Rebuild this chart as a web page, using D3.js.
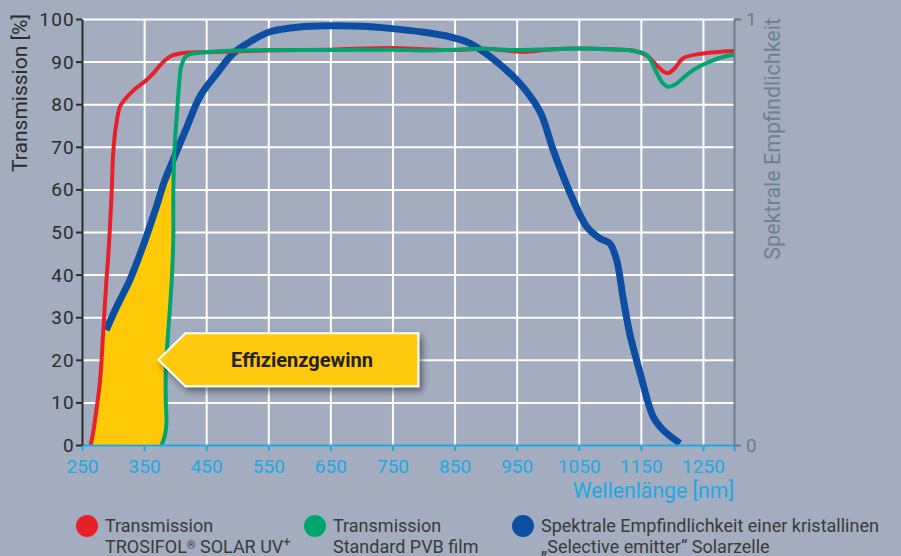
<!DOCTYPE html>
<html>
<head>
<meta charset="utf-8">
<script src="https://cdn.jsdelivr.net/npm/d3@7"></script>
<style>
  html, body { margin: 0; padding: 0; background: #a3adbf; }
  svg { display: block; }
  text { font-family: Roboto, "Noto Sans", sans-serif; }
</style>
</head>
<body>
<svg id="chart" width="901" height="556"></svg>
<script>
// ---------- data ----------
const xTicks = [250, 350, 450, 550, 650, 750, 850, 950, 1050, 1150, 1250];
const yTicks = [0, 10, 20, 30, 40, 50, 60, 70, 80, 90, 100];
const y2Ticks = [0, 1];

// Transmission TROSIFOL SOLAR UV+ (red), wavelength nm / transmission %
const redX = [264, 268, 273, 279, 284, 289, 293, 296, 298, 300, 303, 306, 311, 320, 335, 354, 367, 376, 392, 413, 450, 550, 650, 750, 800, 850, 900, 960, 1000, 1050, 1100, 1140, 1160, 1175, 1187, 1194, 1205, 1218, 1250, 1300];
const redY = [0, 3, 8, 15, 26, 38, 46, 54, 60, 68, 73, 76, 79.4, 81.3, 83.5, 85.7, 87.6, 89.2, 91.2, 92, 92.2, 92.6, 92.8, 93.2, 92.9, 92.7, 93, 92.3, 92.8, 93.1, 92.9, 92.5, 91.4, 89.2, 87.6, 87.3, 88.5, 90.8, 91.9, 92.5];

// Transmission Standard PVB film (green)
const greenX = [378, 383, 386, 385, 385, 388, 392, 395, 397, 397, 398, 400, 403, 406, 410, 418, 440, 494, 550, 650, 750, 800, 850, 900, 950, 1000, 1050, 1100, 1140, 1160, 1175, 1185, 1194, 1205, 1215, 1234, 1261, 1288, 1300];
const greenY = [0, 2, 5, 10, 18, 25, 33, 40, 48, 58, 66, 72, 78, 84, 89, 91.3, 92.1, 92.6, 92.7, 92.7, 92.8, 92.6, 92.8, 93, 92.7, 92.9, 93.1, 92.9, 92.5, 91.5, 87.5, 85, 84.1, 84.6, 85.8, 88, 90, 91.3, 91.6];

// Spektrale Empfindlichkeit (blue), relative 0..1
const blueX = [289, 306, 327, 346, 355, 370, 383, 397, 419, 440, 467, 494, 521, 553, 600, 649, 700, 746, 800, 843, 875, 907, 950, 975, 990, 1009, 1041, 1063, 1084, 1100, 1111, 1122, 1132, 1149, 1170, 1186, 1213];
const blueY = [0.27, 0.325, 0.387, 0.458, 0.495, 0.56, 0.62, 0.67, 0.747, 0.818, 0.872, 0.92, 0.947, 0.97, 0.981, 0.984, 0.983, 0.978, 0.969, 0.958, 0.943, 0.912, 0.857, 0.812, 0.775, 0.692, 0.575, 0.512, 0.485, 0.473, 0.434, 0.34, 0.262, 0.168, 0.066, 0.035, 0.004];

const legendLabels = [
  ["Transmission", "TROSIFOL"],
  ["Transmission", "Standard PVB film"],
  ["Spektrale Empfindlichkeit einer kristallinen", "\u201ESelective emitter\u201C Solarzelle"]
];
const calloutText = "Effizienzgewinn";

// ---------- layout ----------
const C = {
  bg: "#a3adbf", red: "#e8202a", green: "#00a46f", blue: "#0c4ea2",
  yellow: "#ffc908", axisBlue: "#1ea9e3", dark: "#2b2b2b", gray: "#6b7e8c", text: "#3a3a3a"
};
const svg = d3.select("#chart");
const x = d3.scaleLinear().domain([250, 1300]).range([82, 734]);
const y = d3.scaleLinear().domain([0, 100]).range([445, 19]);
const y2 = d3.scaleLinear().domain([0, 1]).range([445, 19]);

svg.append("rect").attr("width", 901).attr("height", 556).attr("fill", C.bg);

const defs = svg.append("defs");
const f = defs.append("filter").attr("id", "shadow").attr("x", "-20%").attr("y", "-30%").attr("width", "150%").attr("height", "170%");
f.append("feDropShadow").attr("dx", 3).attr("dy", 4).attr("stdDeviation", 3).attr("flood-color", "#1c2330").attr("flood-opacity", 0.55);

// grid
const gridV = svg.append("g").attr("transform", "translate(0,19)")
  .call(d3.axisBottom(x).tickValues(xTicks.slice(1)).tickSize(426).tickFormat(""));
gridV.select(".domain").remove();
gridV.selectAll("line").attr("stroke", "#ffffff").attr("stroke-width", 2);
const gridH = svg.append("g").attr("transform", "translate(82,0)")
  .call(d3.axisRight(y).tickValues(yTicks.slice(1)).tickSize(652).tickFormat(""));
gridH.select(".domain").remove();
gridH.selectAll("line").attr("stroke", "#ffffff").attr("stroke-width", 2);

// curve helpers
const pts = (xs, ys, sy) => xs.map((v, i) => [x(v), sy(ys[i])]);
const redP = pts(redX, redY, y), greenP = pts(greenX, greenY, y), blueP = pts(blueX, blueY, y2);

// yellow fill: left by red, top by blue, right by green
function interpXatY(xs, ys, val) {
  for (let i = 0; i < ys.length - 1; i++) {
    if ((ys[i] - val) * (ys[i + 1] - val) <= 0 && ys[i] !== ys[i + 1]) {
      const t = (val - ys[i]) / (ys[i + 1] - ys[i]);
      return xs[i] + t * (xs[i + 1] - xs[i]);
    }
  }
  return xs[xs.length - 1];
}
const greenRiseEnd = greenY.indexOf(91.3);
const gX = greenX.slice(0, greenRiseEnd + 1), gY = greenY.slice(0, greenRiseEnd + 1);
const blueStart = blueY[0] * 100;
const fill = [];
for (let i = 0; i < redX.length && redY[i] < blueStart; i++) fill.push([redX[i], redY[i]]);
fill.push([interpXatY(redX, redY, blueStart), blueStart]);
let cross = null;
for (let i = 0; i < blueX.length; i++) {
  const bv = blueY[i] * 100;
  const gx = interpXatY(gX, gY, bv);
  if (blueX[i] < gx) { fill.push([blueX[i], bv]); }
  else {
    const a = [blueX[i - 1], blueY[i - 1] * 100], b = [blueX[i], bv];
    let lo = 0, hi = 1;
    for (let k = 0; k < 40; k++) {
      const m = (lo + hi) / 2;
      const px = a[0] + m * (b[0] - a[0]), py = a[1] + m * (b[1] - a[1]);
      if (px < interpXatY(gX, gY, py)) lo = m; else hi = m;
    }
    cross = [a[0] + lo * (b[0] - a[0]), a[1] + lo * (b[1] - a[1])];
    fill.push(cross);
    break;
  }
}
for (let i = gY.length - 1; i >= 0; i--) if (gY[i] < cross[1]) fill.push([gX[i], gY[i]]);
svg.append("path")
  .attr("d", d3.line().x(d => x(d[0])).y(d => y(d[1])).curve(d3.curveCatmullRom)(fill) + "Z")
  .attr("fill", C.yellow);

const line = d3.line().curve(d3.curveCatmullRom.alpha(0.5));
svg.append("path").attr("d", line(blueP)).attr("fill", "none").attr("stroke", C.blue).attr("stroke-width", 7).attr("stroke-linejoin", "round");
svg.append("path").attr("d", line(redP)).attr("fill", "none").attr("stroke", C.red).attr("stroke-width", 4).attr("stroke-linejoin", "round");
svg.append("path").attr("d", line(greenP)).attr("fill", "none").attr("stroke", C.green).attr("stroke-width", 4).attr("stroke-linejoin", "round");

// axes
const ax = svg.append("g").attr("transform", "translate(0,445)")
  .call(d3.axisBottom(x).tickValues(xTicks.concat([1300])).tickSize(6).tickSizeOuter(0)
    .tickFormat(d => d === 1300 ? "" : d));
ax.select(".domain").attr("stroke", C.axisBlue).attr("stroke-width", 2);
ax.selectAll(".tick line").attr("stroke", C.axisBlue).attr("stroke-width", 2);
ax.selectAll(".tick text").attr("fill", C.axisBlue).attr("font-size", 19).attr("dy", 0).attr("y", 28)
  .attr("font-family", "Roboto");

const ay = svg.append("g").attr("transform", "translate(82,0)")
  .call(d3.axisLeft(y).tickValues(yTicks).tickSize(6).tickSizeOuter(0));
ay.select(".domain").attr("stroke", C.dark).attr("stroke-width", 2);
ay.selectAll(".tick line").attr("stroke", C.dark).attr("stroke-width", 2);
ay.selectAll(".tick text").attr("fill", C.dark).attr("font-size", 19).attr("x", -7)
  .attr("dy", "0.34em").attr("letter-spacing", 1.2).attr("font-family", "Roboto");

const ar = svg.append("g").attr("transform", "translate(734,0)")
  .call(d3.axisRight(y2).tickValues(y2Ticks).tickSize(7).tickSizeOuter(0).tickFormat(d3.format("d")));
ar.select(".domain").attr("stroke", C.gray).attr("stroke-width", 2);
ar.selectAll(".tick text").attr("fill", C.gray).attr("font-size", 19).attr("x", 12).attr("dy", "0.36em");
ar.selectAll(".tick line").attr("stroke", C.gray).attr("stroke-width", 2);

// axis titles
svg.append("text").attr("transform", "translate(27,14) rotate(-90)").attr("text-anchor", "end")
  .attr("fill", C.dark).attr("font-size", 21).text("Transmission [%]");
svg.append("text").attr("transform", "translate(780,18) rotate(-90)").attr("text-anchor", "end")
  .attr("fill", "#6f818f").attr("font-size", 21.5).text("Spektrale Empfindlichkeit");
svg.append("text").attr("x", 734).attr("y", 498).attr("text-anchor", "end")
  .attr("fill", C.axisBlue).attr("font-size", 21.2).text("Wellenlänge [nm]");

// callout
const tipX = x(373), tipY = y(20);
const cw = 233, ch = 53, arrow = 27;
const cg = svg.append("g");
cg.append("path")
  .attr("d", `M${tipX},${tipY} L${tipX + arrow},${tipY - ch / 2} L${tipX + arrow + cw},${tipY - ch / 2} L${tipX + arrow + cw},${tipY + ch / 2} L${tipX + arrow},${tipY + ch / 2} Z`)
  .attr("fill", C.yellow).attr("stroke", "#ffffff").attr("stroke-width", 2).attr("filter", "url(#shadow)");
cg.append("text").attr("x", tipX + arrow + cw / 2).attr("y", tipY + 7).attr("text-anchor", "middle")
  .attr("font-weight", 700).attr("font-size", 20).attr("fill", "#222").text(calloutText);

// legend
const legendColors = [C.red, C.green, C.blue];
const legendX = [87, 315, 523];
const lg = svg.append("g");
legendColors.forEach((c, i) => {
  lg.append("circle").attr("cx", legendX[i]).attr("cy", 526).attr("r", 11).attr("fill", c);
  const tx = legendX[i] + 18;
  lg.append("text").attr("x", tx).attr("y", 532).attr("fill", C.text).attr("font-size", 18).text(legendLabels[i][0]);
  const t2 = lg.append("text").attr("x", tx).attr("y", 553).attr("fill", C.text).attr("font-size", 18);
  t2.append("tspan").text(legendLabels[i][1]);
  if (i === 0) {
    t2.append("tspan").attr("font-size", 11).attr("dy", -4).text("\u00AE");
    t2.append("tspan").attr("dy", 4).text(" SOLAR UV");
    t2.append("tspan").attr("font-size", 13).attr("dy", -7).text("+");
  }
});
</script>
</body>
</html>
